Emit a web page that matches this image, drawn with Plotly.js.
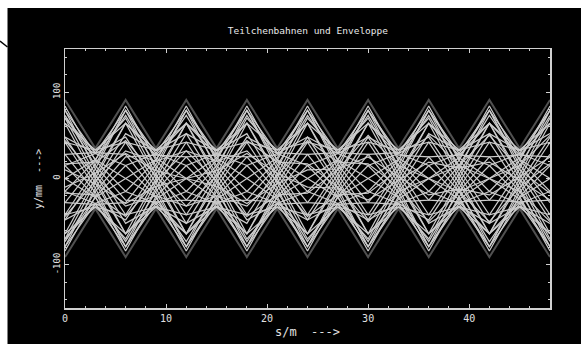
<!DOCTYPE html>
<html><head><meta charset="utf-8">
<script src="https://cdn.plot.ly/plotly-3.0.1.min.js"></script>
<style>html,body{margin:0;padding:0;background:#000;} #chart{width:581px;height:344px;}</style>
</head><body><div id="chart"></div>
<script>
// lens positions along the beam line (s in m)
const s_m = [0,3,6,9,12,15,18,21,24,27,30,33,36,39,42,45,48];
// envelope (y in mm)
const env_upper = [91,35,91,35,91,35,91,35,91,35,91,35,91,35,91,35,91];
const env_lower = [-91,-35,-91,-35,-91,-35,-91,-35,-91,-35,-91,-35,-91,-35,-91,-35,-91];
// particle trajectories (y in mm at each s_m)
const p01 = [84,21,-15,-29,-79,-11,42,33,64,0,-64,-33,-42,11,79,29,15];
const p02 = [79,11,-42,-33,-64,0,64,33,42,-11,-79,-29,-15,21,84,21,-15];
const p03 = [64,0,-64,-33,-42,11,79,29,15,-21,-84,-21,15,29,79,11,-42];
const p04 = [42,-11,-79,-29,-15,21,84,21,-15,-29,-79,-11,42,33,64,0,-64];
const p05 = [15,-21,-84,-21,15,29,79,11,-42,-33,-64,0,64,33,42,-11,-79];
const p06 = [-15,-29,-79,-11,42,33,64,0,-64,-33,-42,11,79,29,15,-21,-84];
const p07 = [-42,-33,-64,0,64,33,42,-11,-79,-29,-15,21,84,21,-15,-29,-79];
const p08 = [-64,-33,-42,11,79,29,15,-21,-84,-21,15,29,79,11,-42,-33,-64];
const p09 = [-79,-29,-15,21,84,21,-15,-29,-79,-11,42,33,64,0,-64,-33,-42];
const p10 = [-84,-21,15,29,79,11,-42,-33,-64,0,64,33,42,-11,-79,-29,-15];
const p11 = [-79,-11,42,33,64,0,-64,-33,-42,11,79,29,15,-21,-84,-21,15];
const p12 = [-64,0,64,33,42,-11,-79,-29,-15,21,84,21,-15,-29,-79,-11,42];
const p13 = [-42,11,79,29,15,-21,-84,-21,15,29,79,11,-42,-33,-64,0,64];
const p14 = [-15,21,84,21,-15,-29,-79,-11,42,33,64,0,-64,-33,-42,11,79];
const p15 = [15,29,79,11,-42,-33,-64,0,64,33,42,-11,-79,-29,-15,21,84];
const p16 = [42,33,64,0,-64,-33,-42,11,79,29,15,-21,-84,-21,15,29,79];
const p17 = [64,33,42,-11,-79,-29,-15,21,84,21,-15,-29,-79,-11,42,33,64];
const p18 = [79,29,15,-21,-84,-21,15,29,79,11,-42,-33,-64,0,64,33,42];
const p19 = [73,15,-25,-27,-64,-5,48,29,48,-5,-64,-27,-25,15,73,22,0];
const p20 = [48,-5,-64,-27,-25,15,73,22,0,-22,-73,-15,25,27,64,5,-48];
const p21 = [0,-22,-73,-15,25,27,64,5,-48,-29,-48,5,64,27,25,-15,-73];
const p22 = [-48,-29,-48,5,64,27,25,-15,-73,-22,0,22,73,15,-25,-27,-64];
const p23 = [-73,-22,0,22,73,15,-25,-27,-64,-5,48,29,48,-5,-64,-27,-25];
const p24 = [-73,-15,25,27,64,5,-48,-29,-48,5,64,27,25,-15,-73,-22,0];
const p25 = [-48,5,64,27,25,-15,-73,-22,0,22,73,15,-25,-27,-64,-5,48];
const p26 = [0,22,73,15,-25,-27,-64,-5,48,29,48,-5,-64,-27,-25,15,73];
const p27 = [48,29,48,-5,-64,-27,-25,15,73,22,0,-22,-73,-15,25,27,64];
const p28 = [73,22,0,-22,-73,-15,25,27,64,5,-48,-29,-48,5,64,27,25];
const p29 = [44,3,-32,-20,-32,3,44,19,17,-10,-50,-15,0,15,50,10,-17];
const p30 = [-17,-19,-44,-3,32,20,32,-3,-44,-19,-17,10,50,15,0,-15,-50];
const p31 = [-44,-3,32,20,32,-3,-44,-19,-17,10,50,15,0,-15,-50,-10,17];
const p32 = [17,19,44,3,-32,-20,-32,3,44,19,17,-10,-50,-15,0,15,50];
const p33 = [10,-6,-29,-9,0,9,29,6,-10,-11,-25,-2,19,12,19,-2,-25];
const p34 = [-10,6,29,9,0,-9,-29,-6,10,11,25,2,-19,-12,-19,2,25];
const p35 = [70,5,-52,-32,-52,5,70,30,28,-16,-79,-24,0,24,79,16,-28];
const p36 = [28,-16,-79,-24,0,24,79,16,-28,-30,-70,-5,52,32,52,-5,-70];
const p37 = [-28,-30,-70,-5,52,32,52,-5,-70,-30,-28,16,79,24,0,-24,-79];
const p38 = [-70,-30,-28,16,79,24,0,-24,-79,-16,28,30,70,5,-52,-32,-52];
const p39 = [-70,-5,52,32,52,-5,-70,-30,-28,16,79,24,0,-24,-79,-16,28];
const p40 = [-28,16,79,24,0,-24,-79,-16,28,30,70,5,-52,-32,-52,5,70];
const p41 = [28,30,70,5,-52,-32,-52,5,70,30,28,-16,-79,-24,0,24,79];
const p42 = [70,30,28,-16,-79,-24,0,24,79,16,-28,-30,-70,-5,52,32,52];
const particles = [p01,p02,p03,p04,p05,p06,p07,p08,p09,p10,p11,p12,p13,p14,p15,p16,p17,
                   p18,p19,p20,p21,p22,p23,p24,p25,p26,p27,p28,p29,p30,p31,p32,p33,p34,
                   p35,p36,p37,p38,p39,p40,p41,p42];
// tick labels
const xTickVals = [0,10,20,30,40];
const xTickText = ['0','10','20','30','40'];
const yTickVals = [-100,0,100];
const yTickText = ['-100','0','100'];
const titleText = 'Teilchenbahnen und Enveloppe';
const xTitle = 's/m  --->';
const yTitle = 'y/mm  --->';

const FONT = 'DejaVu Sans Mono';
const traces = [];
traces.push({x:s_m, y:env_upper, mode:'lines', line:{color:'#505050', width:2}, hoverinfo:'skip', showlegend:false});
traces.push({x:s_m, y:env_lower, mode:'lines', line:{color:'#505050', width:2}, hoverinfo:'skip', showlegend:false});
particles.forEach(p => traces.push({x:s_m, y:p, mode:'lines', line:{color:'#cccccc', width:1.2}, hoverinfo:'skip', showlegend:false}));

const axisCommon = {
  showgrid:false, zeroline:false, showline:true, linecolor:'#d0d0d0', linewidth:1.5,
  mirror:'allticks', ticks:'inside', ticklen:4, tickwidth:1, tickcolor:'#d0d0d0',
  tickfont:{family:FONT, size:10, color:'#e0e0e0'}, fixedrange:true
};
const layout = {
  width:581, height:344,
  margin:{l:65, r:31, t:49, b:36},
  paper_bgcolor:'#000', plot_bgcolor:'#000',
  title:{text:titleText, font:{family:FONT, size:9.5, color:'#e8e8e8'}, x:0.53, xanchor:'center', y:0.91, yanchor:'middle'},
  xaxis:Object.assign({}, axisCommon, {range:[0,48], tickmode:'array', tickvals:xTickVals, ticktext:xTickText,
    minor:{dtick:2, ticks:'inside', ticklen:2, tickcolor:'#d0d0d0'}}),
  yaxis:Object.assign({}, axisCommon, {range:[-150,150], tickmode:'array', tickvals:yTickVals, ticktext:yTickText,
    tickangle:-90, tickfont:{family:FONT, size:9, color:'#e0e0e0'},
    minor:{dtick:20, ticks:'inside', ticklen:2, tickcolor:'#d0d0d0'}}),
  annotations:[
    {text:xTitle, xref:'paper', yref:'paper', x:0.5, y:(308-332)/259, xanchor:'center', yanchor:'middle', showarrow:false,
     font:{family:FONT, size:12, color:'#e0e0e0'}},
    {text:yTitle, xref:'paper', yref:'paper', x:(38-65)/485, y:(308-179)/259, xanchor:'center', yanchor:'middle', showarrow:false,
     textangle:-90, font:{family:FONT, size:10, color:'#e0e0e0'}}
  ],
  shapes:[
    {type:'rect', xref:'paper', yref:'paper', x0:(0-65)/485, x1:(7.5-65)/485, y0:(308-344)/259, y1:(308-0)/259, fillcolor:'#fff', line:{width:0}, layer:'above'},
    {type:'rect', xref:'paper', yref:'paper', x0:(0-65)/485, x1:(581-65)/485, y0:(308-8)/259, y1:(308-0)/259, fillcolor:'#fff', line:{width:0}, layer:'above'},
    {type:'line', xref:'paper', yref:'paper', x0:(0-65)/485, x1:(7.5-65)/485, y0:(308-41)/259, y1:(308-47)/259, line:{color:'#000', width:1.5}, layer:'above'}
  ]
};
Plotly.newPlot('chart', traces, layout, {staticPlot:true, displayModeBar:false});
</script>
</body></html>
